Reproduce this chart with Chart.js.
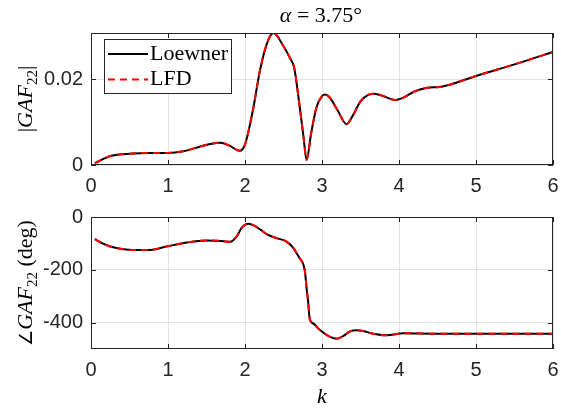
<!DOCTYPE html>
<html>
<head>
<meta charset="utf-8">
<script src="https://cdn.jsdelivr.net/npm/chart.js@4.4.1/dist/chart.umd.min.js"></script>
<style>
  html, body { margin: 0; padding: 0; background: #fff; }
  #wrap { position: relative; width: 561px; height: 408px; }
  canvas { position: absolute; left: 0; }
  #magCanvas { top: 0; }
  #phaseCanvas { top: 195px; }
</style>
</head>
<body>
<div id="wrap">
  <canvas id="magCanvas" width="561" height="195"></canvas>
  <canvas id="phaseCanvas" width="561" height="213"></canvas>
</div>
<script>
// === Dados ===
const kMag = [0.05, 0.15, 0.25, 0.4, 0.55, 0.75, 1.0, 1.2, 1.4, 1.55, 1.68, 1.8, 1.93, 2.0, 2.1, 2.2, 2.3, 2.37,
  2.5, 2.58, 2.64, 2.7, 2.76, 2.8, 2.86, 2.93, 3.0, 3.04, 3.1, 3.2, 3.32, 3.4, 3.5, 3.6, 3.68, 3.8, 3.95,
  4.05, 4.2, 4.35, 4.55, 4.75, 5.0, 5.5, 6.0];
const magLoewner = [0.0004, 0.0013, 0.0021, 0.0025, 0.0027, 0.0028, 0.0028, 0.0032, 0.0042, 0.0049, 0.0052, 0.0045, 0.0033, 0.0048, 0.0125, 0.0225, 0.0290, 0.0307,
  0.0276, 0.0250, 0.0225, 0.0150, 0.0065, 0.0012, 0.0075, 0.0135, 0.0160, 0.0164, 0.0157, 0.0128, 0.0095, 0.0115, 0.0148, 0.0163, 0.0166, 0.0160, 0.0151,
  0.0156, 0.0171, 0.0179, 0.0182, 0.0192, 0.0207, 0.0234, 0.0263];
const magLFD = magLoewner.slice();

const kPhase = [0.05, 0.15, 0.25, 0.4, 0.55, 0.75, 0.98, 1.24, 1.5, 1.7, 1.81, 1.89, 1.96, 2.04, 2.12, 2.2, 2.3, 2.41,
  2.54, 2.63, 2.67, 2.71, 2.76, 2.78, 2.80, 2.82, 2.84, 2.89, 2.97, 3.08, 3.19, 3.28, 3.36, 3.45, 3.55, 3.65, 3.84, 4.06, 4.5, 5.0, 6.0];
const phaseLoewner = [-84, -100, -112, -121, -125, -125, -112, -97, -89, -91, -94, -74, -40, -26, -33, -48, -68, -80,
  -93, -118, -137, -156, -182, -210, -270, -321, -385, -404, -427, -450, -461, -450, -434, -429, -433, -441, -448, -440, -442, -442, -442];
const phaseLFD = phaseLoewner.slice();

const kTicks = [0, 1, 2, 3, 4, 5, 6];
const magTicks = [0, 0.02];
const phaseTicks = [-400, -200, 0];

const AXIS = '#262626';
const GRID = 'rgba(38,38,38,0.13)';
const TICK_FONT = { family: '"Liberation Sans", Arial, sans-serif', size: 20 };
const SERIF = '"Liberation Serif", "Times New Roman", serif';

const pts = (xs, ys) => xs.map((x, i) => ({ x, y: ys[i] }));

// === Texto com subscrito (rótulos em estilo LaTeX) ===
function drawRich(ctx, parts, x, y, rotate) {
  ctx.save();
  ctx.translate(x, y);
  if (rotate) ctx.rotate(-Math.PI / 2);
  let w = 0;
  parts.forEach(p => { ctx.font = p.font; w += ctx.measureText(p.t).width; });
  let cx = -w / 2;
  ctx.fillStyle = '#000';
  ctx.textBaseline = 'alphabetic';
  ctx.textAlign = 'left';
  parts.forEach(p => {
    ctx.font = p.font;
    ctx.fillText(p.t, cx, p.dy || 0);
    cx += ctx.measureText(p.t).width;
  });
  ctx.restore();
}
const up = t => ({ t, font: `22px ${SERIF}` });
const it = t => ({ t, font: `italic 22px ${SERIF}` });
const sub = t => ({ t, font: `15px ${SERIF}`, dy: 5 });
const ang = t => ({ t, font: `18px "DejaVu Sans", sans-serif` });

// === Caixa dos eixos e marcas internas (estilo MATLAB) ===
const boxPlugin = {
  id: 'box',
  afterDraw(chart) {
    const { ctx, chartArea: a, scales: { x, y } } = chart;
    ctx.save();
    ctx.strokeStyle = AXIS;
    ctx.lineWidth = 1;
    ctx.beginPath();
    kTicks.forEach(v => {
      const px = Math.round(x.getPixelForValue(v)) + 0.5;
      ctx.moveTo(px, a.bottom); ctx.lineTo(px, a.bottom - 5);
      ctx.moveTo(px, a.top); ctx.lineTo(px, a.top + 5);
    });
    chart.options.yTicks.forEach(v => {
      const py = Math.round(y.getPixelForValue(v)) + 0.5;
      ctx.moveTo(a.left, py); ctx.lineTo(a.left + 5, py);
      ctx.moveTo(a.right, py); ctx.lineTo(a.right - 5, py);
    });
    ctx.stroke();
    ctx.strokeRect(Math.round(a.left) + 0.5, Math.round(a.top) + 0.5, Math.round(a.width) - 1, Math.round(a.height) - 1);
    ctx.restore();
  }
};

function makeOptions(yMin, yMax, yTicks, fmt, topPad, xHeight) {
  return {
    responsive: false,
    animation: false,
    events: [],
    yTicks,
    layout: { padding: { top: topPad, right: 0, left: 0, bottom: 0 } },
    plugins: { legend: { display: false }, tooltip: { enabled: false } },
    elements: { point: { radius: 0 } },
    scales: {
      x: {
        type: 'linear', min: 0, max: 6,
        afterBuildTicks: s => { s.ticks = kTicks.map(v => ({ value: v })); },
        afterFit: s => { s.height = xHeight; s.paddingRight = 8; s.paddingLeft = 0; },
        grid: { color: GRID, drawTicks: false },
        border: { display: false },
        ticks: { color: AXIS, font: TICK_FONT, padding: 9, maxRotation: 0, autoSkip: false }
      },
      y: {
        type: 'linear', min: yMin, max: yMax,
        afterBuildTicks: s => { s.ticks = yTicks.map(v => ({ value: v })); },
        afterFit: s => { s.width = 91; },
        grid: { color: GRID, drawTicks: false },
        border: { display: false },
        ticks: { color: AXIS, font: TICK_FONT, padding: 8, callback: fmt }
      }
    }
  };
}

function datasets(xs, a, b) {
  return [
    { label: 'Loewner', data: pts(xs, a), borderColor: '#000', borderWidth: 2, cubicInterpolationMode: 'monotone', order: 2 },
    { label: 'LFD', data: pts(xs, b), borderColor: '#ff0000', borderWidth: 2, borderDash: [7, 5], cubicInterpolationMode: 'monotone', order: 1 }
  ];
}

// === Gráfico superior: módulo ===
const magDecor = {
  id: 'magDecor',
  afterDraw(chart) {
    const ctx = chart.ctx;
    drawRich(ctx, [it('α'), up(' = 3.75°')], 321, 22, false);
    drawRich(ctx, [up('|'), it('GAF'), sub('22'), up('|')], 32, 99, true);
    // legenda
    ctx.save();
    ctx.fillStyle = '#fff';
    ctx.fillRect(104, 39, 128, 54);
    ctx.strokeStyle = AXIS;
    ctx.lineWidth = 1;
    ctx.strokeRect(104.5, 39.5, 127, 54);
    ctx.lineWidth = 2;
    ctx.strokeStyle = '#000';
    ctx.beginPath(); ctx.moveTo(108, 54); ctx.lineTo(148, 54); ctx.stroke();
    ctx.strokeStyle = '#ff0000';
    ctx.setLineDash([7, 5]);
    ctx.beginPath(); ctx.moveTo(108, 79.5); ctx.lineTo(148, 79.5); ctx.stroke();
    ctx.setLineDash([]);
    ctx.fillStyle = '#000';
    ctx.font = `22px ${SERIF}`;
    ctx.textBaseline = 'alphabetic';
    ctx.fillText('Loewner', 150, 60);
    ctx.fillText('LFD', 150, 85);
    ctx.restore();
  }
};

new Chart(document.getElementById('magCanvas'), {
  type: 'line',
  data: { datasets: datasets(kMag, magLoewner, magLFD) },
  options: makeOptions(0, 0.0307, magTicks, v => (v === 0 ? '0' : v.toFixed(2)), 33, 30),
  plugins: [boxPlugin, magDecor]
});

// === Gráfico inferior: fase ===
const phaseDecor = {
  id: 'phaseDecor',
  afterDraw(chart) {
    const ctx = chart.ctx;
    drawRich(ctx, [ang('∠'), it('GAF'), sub('22'), up(' (deg)')], 32, 88, true);
    drawRich(ctx, [it('k')], 322, 208, false);
  }
};

new Chart(document.getElementById('phaseCanvas'), {
  type: 'line',
  data: { datasets: datasets(kPhase, phaseLoewner, phaseLFD) },
  options: makeOptions(-500, 0, phaseTicks, v => String(v), 22, 59),
  plugins: [boxPlugin, phaseDecor]
});
</script>
</body>
</html>
